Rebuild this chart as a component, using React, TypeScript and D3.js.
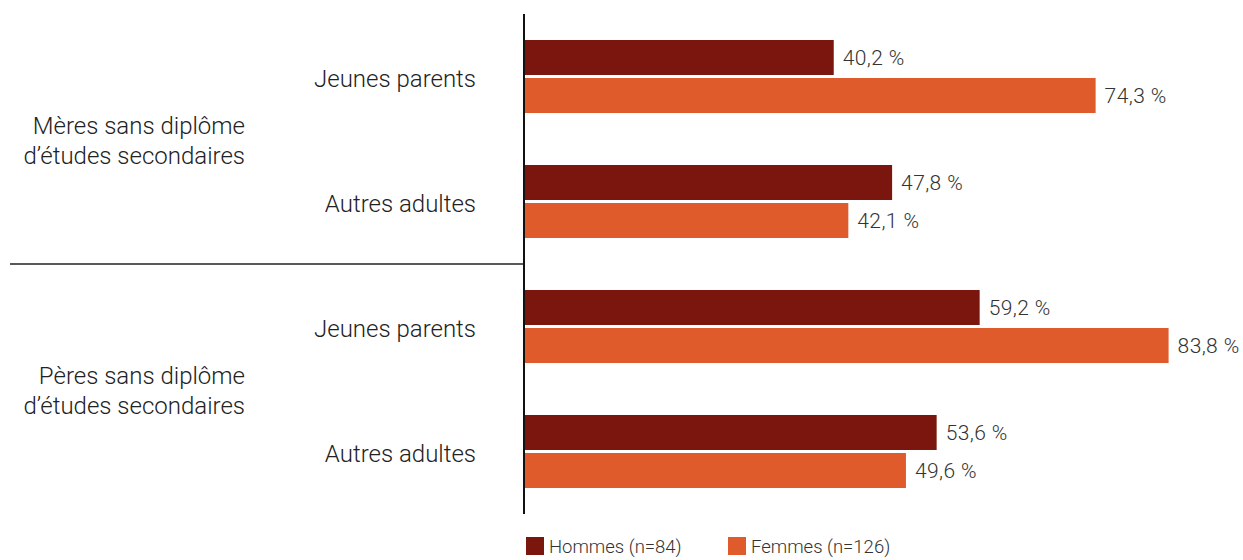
import React from 'react';
import * as d3 from 'd3';

// rows, top to bottom
const rows = ['m-jeunes', 'm-autres', 'p-jeunes', 'p-autres'];
const rowLabels = ['Jeunes parents', 'Autres adultes', 'Jeunes parents', 'Autres adultes'];
const groupLabels = [
  ['Mères sans diplôme', 'd’études secondaires'],
  ['Pères sans diplôme', 'd’études secondaires'],
];
const series = ['Hommes (n=84)', 'Femmes (n=126)'];
const hommes = [40.2, 47.8, 59.2, 53.6];
const femmes = [74.3, 42.1, 83.8, 49.6];

const colors = ['#7b160e', '#df5b2c'];
const font = 'Roboto, "Open Sans", sans-serif';
const fmt = (v: number) => v.toFixed(1).replace('.', ',') + ' %';

const App = () => {
  const width = 1243;
  const height = 560;
  const axisX = 524;

  const x = d3.scaleLinear().domain([0, 100]).range([axisX + 1, axisX + 1 + 768]);
  const y = d3.scaleBand().domain(rows).range([14, 514]);
  const y1 = d3
    .scaleBand()
    .domain(series)
    .range([0, y.bandwidth()])
    .paddingInner(3 / 38)
    .paddingOuter(0.684);

  const groupY = d3.scaleBand().domain(['m', 'p']).range([14, 514]);

  const values = [hommes, femmes];

  return (
    <svg width={width} height={height} style={{ position: 'absolute', left: 0, top: 0 }}>
      <rect width={width} height={height} fill="#fff" />
      {rows.map((r, i) => (
        <g key={r}>
          {series.map((s, j) => {
            const v = values[j][i];
            const by = (y(r) as number) + (y1(s) as number);
            return (
              <g key={s}>
                <rect x={x(0)} y={by} width={x(v) - x(0)} height={y1.bandwidth()} fill={colors[j]} />
                <text
                  x={x(v) + 9}
                  y={by + y1.bandwidth() / 2}
                  dy="0.35em"
                  fontFamily={font}
                  fontWeight={300}
                  fontSize={21}
                  letterSpacing={0.4}
                  fill="#333"
                >
                  {fmt(v)}
                </text>
              </g>
            );
          })}
          <text
            x={476}
            y={(y(r) as number) + y.bandwidth() / 2 + 2}
            dy="0.35em"
            textAnchor="end"
            fontFamily={font}
            fontWeight={300}
            fontSize={24}
            fill="#222"
          >
            {rowLabels[i]}
          </text>
        </g>
      ))}
      {groupLabels.map((lines, i) => {
        const cy = (groupY(groupY.domain()[i]) as number) + groupY.bandwidth() / 2;
        return (
          <text
            key={i}
            x={245}
            textAnchor="end"
            fontFamily={font}
            fontWeight={300}
            fontSize={24}
            fill="#222"
          >
            {lines.map((l, k) => (
              <tspan key={k} x={245} y={cy - 13 + k * 30} dy="0.35em">
                {l}
              </tspan>
            ))}
          </text>
        );
      })}
      <line
        x1={10}
        x2={axisX}
        y1={groupY('p') as number}
        y2={groupY('p') as number}
        stroke="#222"
        strokeWidth={1.5}
      />
      <line x1={axisX} x2={axisX} y1={14} y2={514} stroke="#111" strokeWidth={2} />
      {series.map((s, j) => {
        const lx = j === 0 ? 526 : 728;
        return (
          <g key={s}>
            <rect x={lx} y={537} width={18} height={18} fill={colors[j]} />
            <text
              x={lx + 23}
              y={547}
              dy="0.35em"
              fontFamily={font}
              fontWeight={300}
              fontSize={18.5}
              fill="#333"
            >
              {s}
            </text>
          </g>
        );
      })}
    </svg>
  );
};

export default App;
